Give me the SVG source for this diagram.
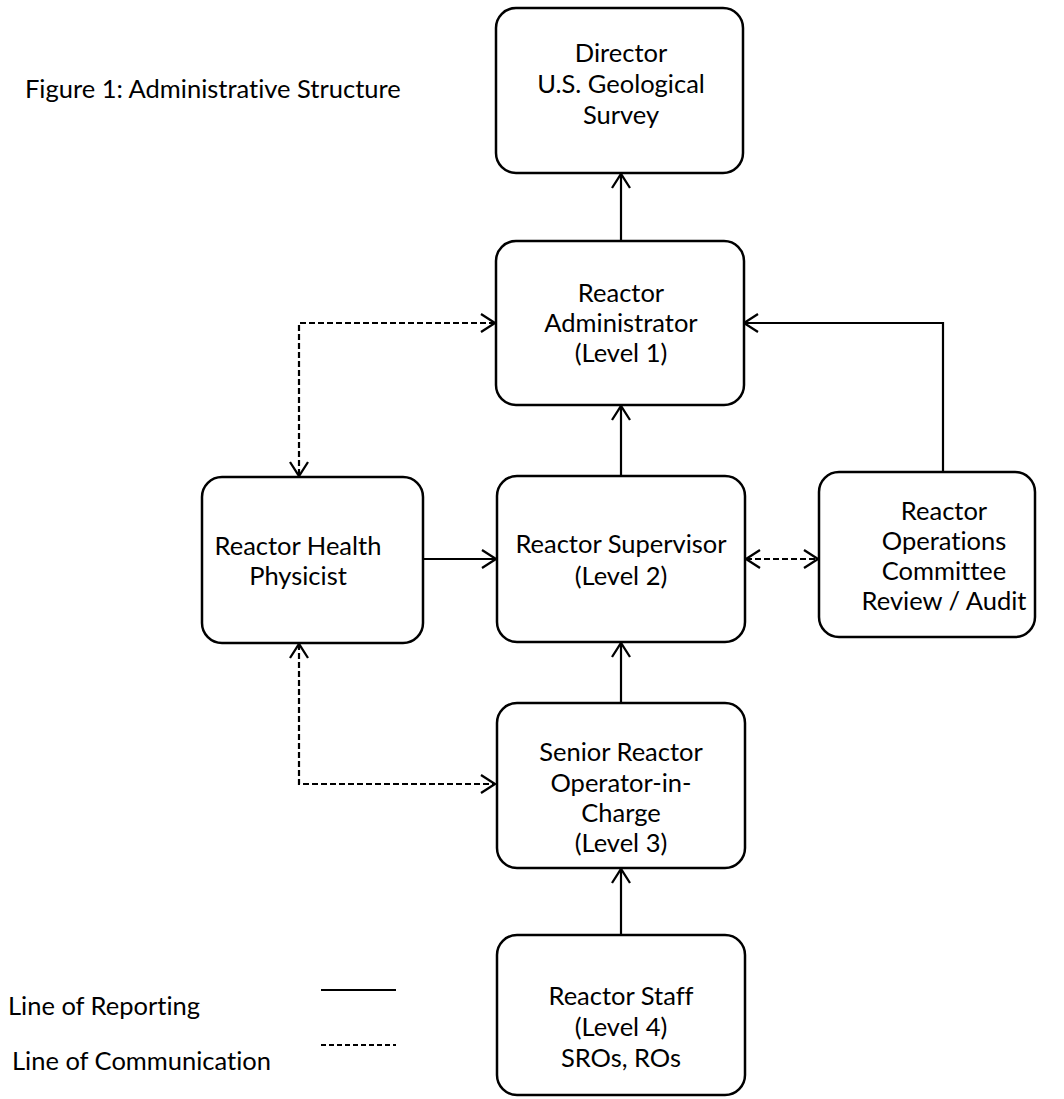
<svg xmlns="http://www.w3.org/2000/svg" width="1064" height="1099" viewBox="0 0 1064 1099">
<defs>
<marker id="arr" markerUnits="userSpaceOnUse" markerWidth="24" markerHeight="24" viewBox="-16 -12 20 24" refX="0" refY="0" orient="auto-start-reverse">
<path d="M-14,-9 L0,0 L-14,9" fill="none" stroke="#000" stroke-width="2.3"/>
</marker>
<style>
.box{fill:#fff;stroke:#000;stroke-width:2.5}
.t{font-family:Lato,"Liberation Sans",sans-serif;font-size:25.5px;fill:#000;text-anchor:middle;font-variant-ligatures:none}
.l{font-family:Lato,"Liberation Sans",sans-serif;font-size:25.5px;fill:#000;font-variant-ligatures:none}
.c{fill:none;stroke:#000;stroke-width:2.2}
.d{fill:none;stroke:#000;stroke-width:2.2;stroke-dasharray:6 3}
</style>
</defs>
<rect width="1064" height="1099" fill="#fff"/>
<text class="l" x="25" y="98">Figure 1: Administrative Structure</text>
<g id="connectors">
<line class="c" x1="621" y1="240" x2="621" y2="174" marker-end="url(#arr)"/>
<line class="c" x1="621" y1="476" x2="621" y2="406" marker-end="url(#arr)"/>
<line class="c" x1="621" y1="703" x2="621" y2="643" marker-end="url(#arr)"/>
<line class="c" x1="621" y1="935" x2="621" y2="869" marker-end="url(#arr)"/>
<line class="c" x1="423" y1="559" x2="496" y2="559" marker-end="url(#arr)"/>
<polyline class="c" points="943,472 943,323 744,323" marker-end="url(#arr)"/>
<line class="d" x1="746" y1="559" x2="818" y2="559" marker-start="url(#arr)" marker-end="url(#arr)"/>
<polyline class="d" points="495,323 299,323 299,476" marker-start="url(#arr)" marker-end="url(#arr)"/>
<polyline class="d" points="299,644 299,784 495,784" marker-start="url(#arr)" marker-end="url(#arr)"/>
</g>
<g id="director">
<rect class="box" x="496" y="8" width="247" height="165" rx="20"/>
<text class="t" x="621" y="62">Director</text>
<text class="t" x="621" y="93">U.S. Geological</text>
<text class="t" x="621" y="124">Survey</text>
</g>
<g id="administrator">
<rect class="box" x="496" y="241" width="248" height="164" rx="20"/>
<text class="t" x="621" y="302">Reactor</text>
<text class="t" x="621" y="332">Administrator</text>
<text class="t" x="621" y="362">(Level 1)</text>
</g>
<g id="health-physicist">
<rect class="box" x="202" y="477" width="221" height="166" rx="20"/>
<text class="t" x="298" y="555">Reactor Health</text>
<text class="t" x="298" y="585">Physicist</text>
</g>
<g id="supervisor">
<rect class="box" x="497" y="476" width="248" height="166" rx="20"/>
<text class="t" x="621" y="553">Reactor Supervisor</text>
<text class="t" x="621" y="585">(Level 2)</text>
</g>
<g id="operations-committee">
<rect class="box" x="819" y="472" width="216" height="165" rx="20"/>
<text class="t" x="944" y="520">Reactor</text>
<text class="t" x="944" y="550">Operations</text>
<text class="t" x="944" y="580">Committee</text>
<text class="t" x="944" y="610">Review / Audit</text>
</g>
<g id="senior-operator">
<rect class="box" x="497" y="703" width="248" height="165" rx="20"/>
<text class="t" x="621" y="761">Senior Reactor</text>
<text class="t" x="621" y="792">Operator-in-</text>
<text class="t" x="621" y="822">Charge</text>
<text class="t" x="621" y="852">(Level 3)</text>
</g>
<g id="staff">
<rect class="box" x="497" y="935" width="248" height="160" rx="20"/>
<text class="t" x="621" y="1005">Reactor Staff</text>
<text class="t" x="621" y="1036">(Level 4)</text>
<text class="t" x="621" y="1067">SROs, ROs</text>
</g>
<g id="legend">
<text class="l" x="8" y="1015">Line of Reporting</text>
<text class="l" x="12" y="1070">Line of Communication</text>
<line class="c" x1="321" y1="990" x2="396" y2="990"/>
<line x1="321" y1="1045" x2="396" y2="1045" stroke="#000" stroke-width="2" stroke-dasharray="5 3"/>
</g>
</svg>
